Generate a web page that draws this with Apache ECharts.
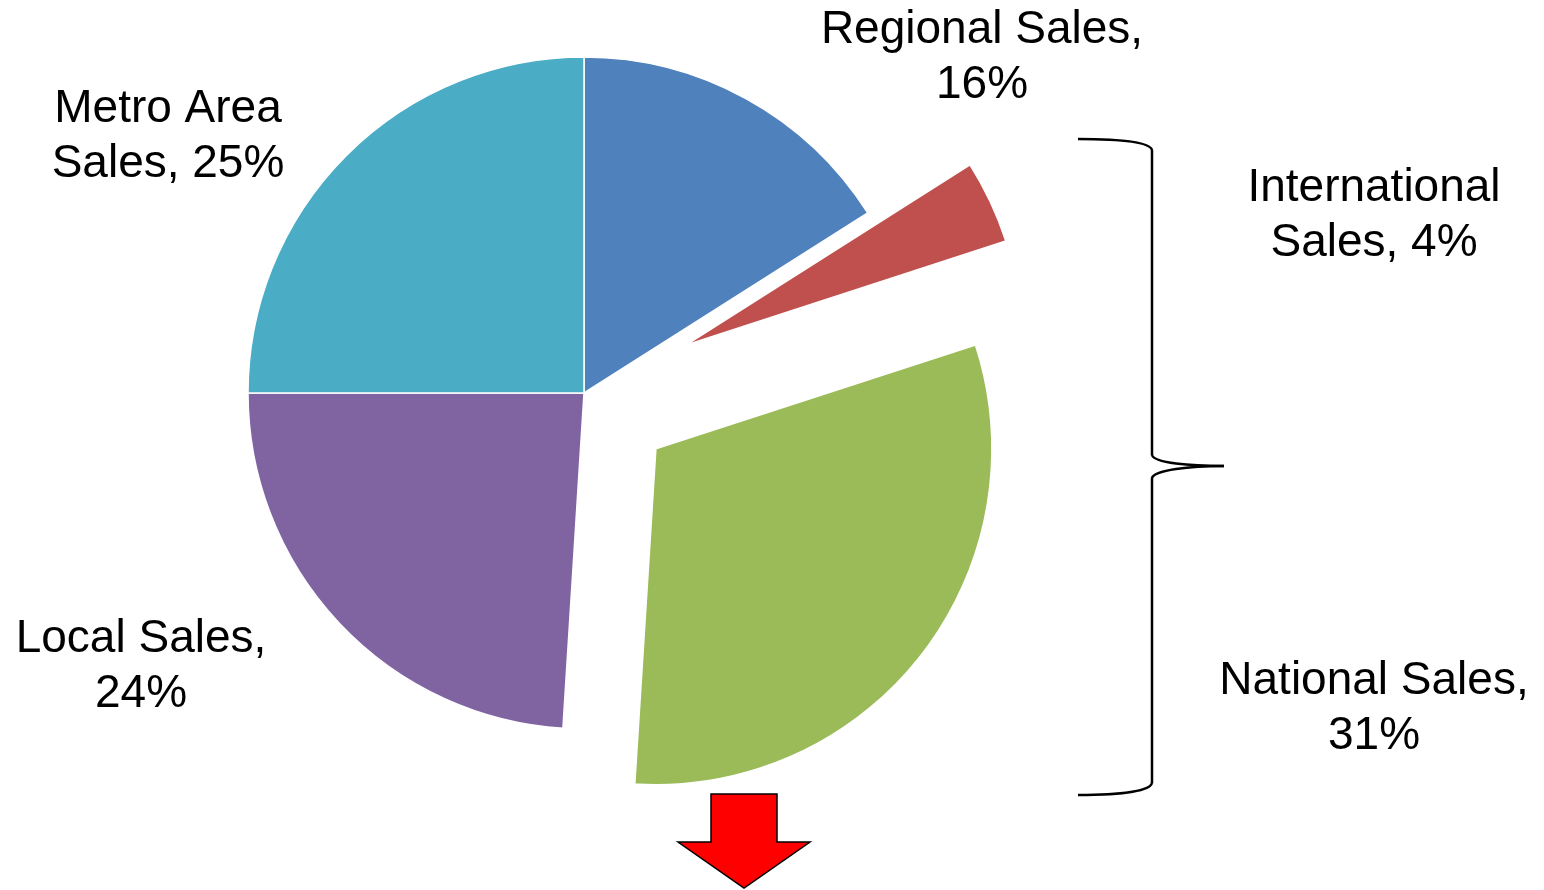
<!DOCTYPE html>
<html>
<head>
<meta charset="utf-8">
<title>Sales by Market</title>
<script src="https://cdn.jsdelivr.net/npm/echarts@6/dist/echarts.min.js"></script>
<style>
  html, body { margin: 0; padding: 0; background: #ffffff; }
  #chart { width: 1544px; height: 890px; }
</style>
</head>
<body>
<div id="chart"></div>
<script>
// Share of sales by market, clockwise from 12 o'clock
const categories = ['Regional Sales', 'International Sales', 'National Sales', 'Local Sales', 'Metro Area Sales'];
const shares = [16, 4, 31, 24, 25];
const sliceColors = ['#4F81BD', '#C0504D', '#9BBB59', '#8064A2', '#4BACC6'];
// Pulled-out distance of each slice (0 = stays in place)
const explodeOffsets = [0, 113, 91, 0, 0];
// Where each label block is centred, and how many words go on its first line
const labelCenters = [[982, 58], [1374, 216], [1374, 709], [141, 667], [168, 137]];
const firstLineWords = [2, 1, 2, 2, 2];

const PIE_CENTER = [584, 393];
const PIE_RADIUS = 336;
const FONT = '"Liberation Sans", Arial, sans-serif';

function labelText(i) {
  const words = (categories[i] + ', ' + shares[i] + '%').split(' ');
  const n = firstLineWords[i];
  return words.slice(0, n).join(' ') + '\n' + words.slice(n).join(' ');
}

// One pie series per distinct offset; slices belonging to other groups are left transparent.
const offsetGroups = [...new Set(explodeOffsets)];
const series = offsetGroups.map(function (offset, g) {
  return {
    type: 'pie',
    center: PIE_CENTER,
    radius: PIE_RADIUS,
    startAngle: 90,
    clockwise: true,
    silent: true,
    animation: false,
    avoidLabelOverlap: false,
    selectedMode: offset > 0 ? 'multiple' : false,
    selectedOffset: offset,
    emphasis: { disabled: true },
    labelLine: { show: false },
    label: {
      show: g === 0,
      position: 'outside',
      color: '#000000',
      fontFamily: FONT,
      fontSize: 46,
      lineHeight: 55,
      align: 'center',
      formatter: function (p) { return labelText(p.dataIndex); }
    },
    labelLayout: function (p) {
      const c = labelCenters[p.dataIndex];
      return { x: c[0], y: c[1], align: 'center', verticalAlign: 'middle' };
    },
    z: 2 + g,
    data: categories.map(function (name, i) {
      const visible = explodeOffsets[i] === offset;
      return {
        name: name,
        value: shares[i],
        selected: visible && offset > 0,
        itemStyle: visible
          ? { color: sliceColors[i], borderColor: '#ffffff', borderWidth: 1.5 }
          : { color: 'rgba(0,0,0,0)', borderWidth: 0 }
      };
    })
  };
});

// Curly brace grouping International and National sales, built from curves and straight runs
const braceStyle = { stroke: '#000000', lineWidth: 2.5, fill: null };
const braceParts = [
  { type: 'bezierCurve', shape: { x1: 1078, y1: 139, cpx1: 1122, cpy1: 139, cpx2: 1150, cpy2: 142, x2: 1152, y2: 150 } },
  { type: 'line', shape: { x1: 1152, y1: 150, x2: 1152, y2: 455 } },
  { type: 'bezierCurve', shape: { x1: 1152, y1: 455, cpx1: 1154, cpy1: 463, cpx2: 1190, cpy2: 466, x2: 1224, y2: 466 } },
  { type: 'bezierCurve', shape: { x1: 1224, y1: 466, cpx1: 1190, cpy1: 466, cpx2: 1154, cpy2: 470, x2: 1152, y2: 478 } },
  { type: 'line', shape: { x1: 1152, y1: 478, x2: 1152, y2: 783 } },
  { type: 'bezierCurve', shape: { x1: 1152, y1: 783, cpx1: 1150, cpy1: 791, cpx2: 1122, cpy2: 795, x2: 1078, y2: 795 } }
].map(function (el) { return Object.assign(el, { style: braceStyle, z: 10, silent: true }); });

const chart = echarts.init(document.getElementById('chart'), null, { renderer: 'canvas' });
chart.setOption({
  backgroundColor: '#ffffff',
  series: series,
  graphic: braceParts.concat([
    {
      // Downward arrow under the National slice
      type: 'polygon',
      shape: {
        points: [[711, 794], [777, 794], [777, 842], [810, 842], [744, 888], [678, 842], [711, 842]]
      },
      style: { fill: '#FF0000', stroke: '#000000', lineWidth: 1.5 },
      z: 10,
      silent: true
    }
  ])
});
</script>
</body>
</html>
